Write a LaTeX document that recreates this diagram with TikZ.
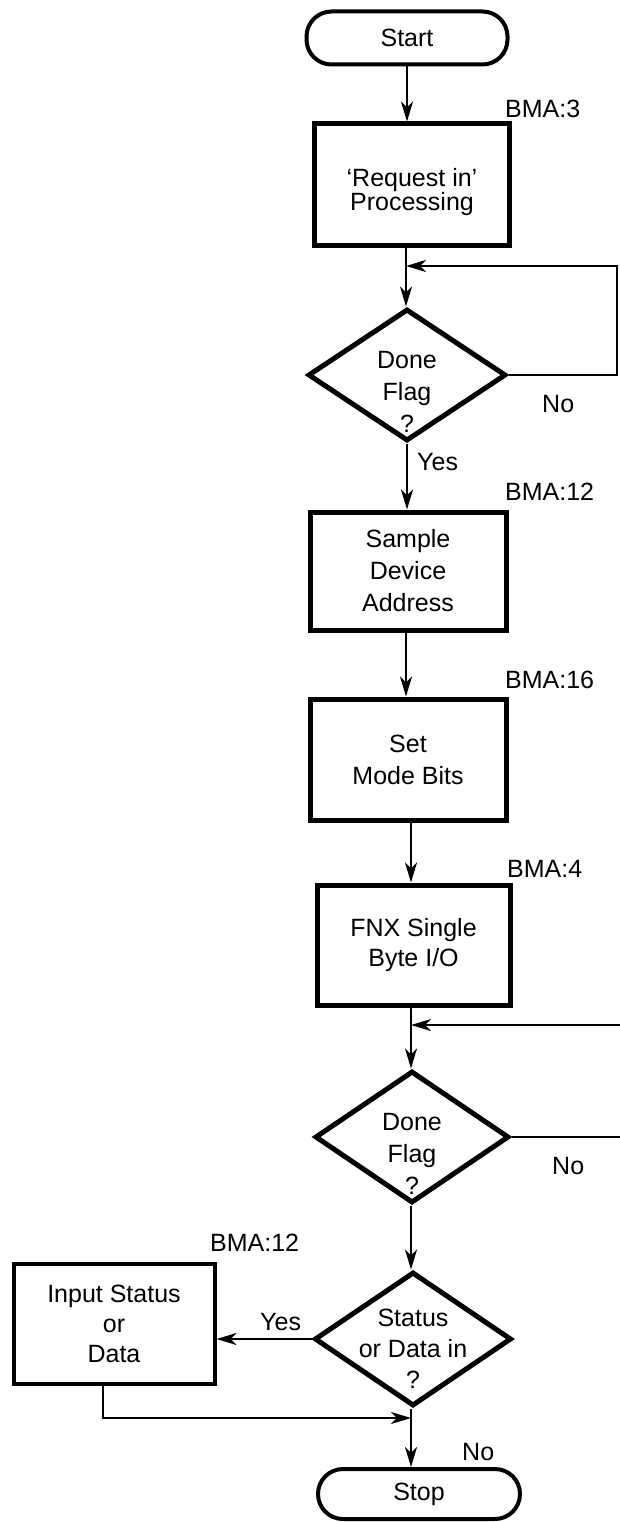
\documentclass[tikz,border=0pt]{standalone}
\usepackage{fontspec}
\setmainfont{Liberation Sans}
\usetikzlibrary{shapes.geometric,arrows.meta}
\begin{document}
\begin{tikzpicture}[x=1pt,y=-1pt,
  every node/.style={font=\fontsize{25}{32}\selectfont},
  term/.style={draw,line width=4pt,rounded corners=25pt,inner sep=0pt},
  procbox/.style={draw,line width=5pt,inner sep=0pt,align=center},
  decision/.style={diamond,draw,line width=5pt,inner sep=0pt,shape aspect=1.5},
  dtext/.style={align=center,inner sep=0pt},
  lbl/.style={anchor=base west,inner sep=0pt},
  flow/.style={line width=2.4pt,-{Stealth[length=20pt,width=12pt,inset=6pt]}},
  plain/.style={line width=2.4pt}]
\useasboundingbox (0,0) rectangle (620,1522);
% named reference coordinates
\coordinate (mx) at (406,0);
\coordinate (mx2) at (411,0);
\coordinate (r1) at (617,0);
\coordinate (r2) at (620,0);
\coordinate (j1) at (406,266);
\coordinate (j2) at (411,1025);
\coordinate (j3) at (103,0);
\coordinate (j4) at (411,1418);
% nodes
\node[term,minimum width=201pt,minimum height=53pt] (start) at (407,38) {Start};
\node[procbox,minimum width=195pt,minimum height=122pt] (b1) at (412,185) {};
\node[dtext,font=\fontsize{25}{23}\selectfont] (t1) at (412,192) {`Request in'\\Processing};
\node[decision,minimum width=198pt,minimum height=132pt] (d1) at (407,375) {};
\node[dtext] (t2) at (407,392) {Done\\Flag\\?};
\node[procbox,minimum width=196pt,minimum height=118pt] (b2) at (408,571) {Sample\\Device\\Address};
\node[procbox,minimum width=196pt,minimum height=121pt] (b3) at (408,759.5) {Set\\Mode Bits};
\node[procbox,minimum width=193pt,minimum height=120pt,font=\fontsize{25}{30}\selectfont] (b4) at (413.5,945) {FNX Single\\Byte I/O};
\node[decision,minimum width=194pt,minimum height=132pt] (d2) at (412,1137) {};
\node[dtext] (t3) at (412,1154) {Done\\Flag\\?};
\node[decision,minimum width=197pt,minimum height=134pt] (d3) at (413,1339) {};
\node[dtext,font=\fontsize{25}{31}\selectfont] (t4) at (413,1349) {Status\\or Data in\\?};
\node[procbox,line width=4pt,minimum width=201pt,minimum height=120pt,font=\fontsize{25}{30}\selectfont] (b5) at (114,1323.5) {Input Status\\or\\Data};
\node[term,minimum width=202pt,minimum height=50pt] (stop) at (419,1494) {Stop};
% labels
\node[lbl] (l1) at (505,118) {BMA:3};
\node[lbl] (l2) at (505,500) {BMA:12};
\node[lbl] (l3) at (505,688) {BMA:16};
\node[lbl] (l4) at (507,877) {BMA:4};
\node[lbl] (l5) at (210,1251) {BMA:12};
\node[lbl] (n1) at (542,412) {No};
\node[lbl] (y1) at (417,470) {Yes};
\node[lbl] (n2) at (552,1174) {No};
\node[lbl] (y2) at (260,1330) {Yes};
\node[lbl] (n3) at (462,1460) {No};
% connectors
\draw[flow] (start.south) -- (start.south |- b1.north);
\draw[flow] (mx |- b1.south) -- (mx |- d1.north);
\draw[flow] (d1.east) -- (d1.east -| r1) |- (j1);
\draw[flow] (d1.south) -- (d1.south |- b2.north);
\draw[flow] (mx |- b2.south) -- (mx |- b3.north);
\draw[flow] (mx2 |- b3.south) -- (mx2 |- b4.north);
\draw[flow] (mx2 |- b4.south) -- (mx2 |- d2.north);
\draw[plain] (d2.east) -- (d2.east -| r2);
\draw[flow] (r2 |- j2) -- (j2);
\draw[flow] (mx2 |- d2.south) -- (mx2 |- d3.north);
\draw[flow] (d3.west) -- (d3.west -| b5.east);
\draw[flow] (j3 |- b5.south) |- (j4);
\draw[flow] (mx2 |- d3.south) -- (mx2 |- stop.north);
\end{tikzpicture}
\end{document}
